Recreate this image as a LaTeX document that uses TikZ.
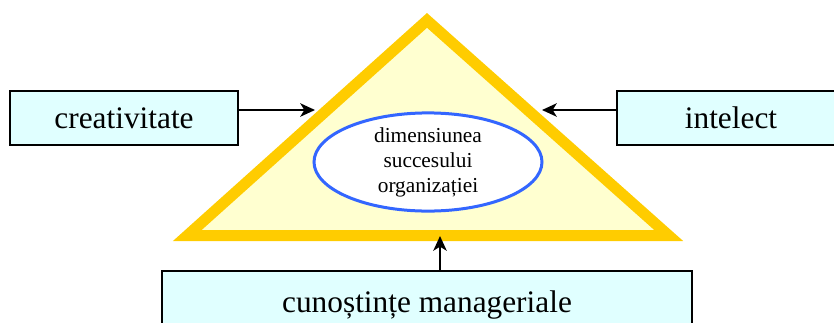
\documentclass[tikz,border=0pt]{standalone}
\usepackage{fontspec}
\setmainfont{Liberation Serif}
\usetikzlibrary{shapes.geometric,arrows.meta}

\definecolor{gold}{RGB}{255,204,0}
\definecolor{paleyellow}{RGB}{255,255,208}
\definecolor{palecyan}{RGB}{224,255,255}
\definecolor{ringblue}{RGB}{51,102,255}

\begin{document}
\begin{tikzpicture}[x=0.75pt, y=-0.75pt,
  box/.style={draw, fill=palecyan, line width=1.3pt, minimum width=171pt, minimum height=40.5pt,
    inner sep=0pt, font=\fontsize{23.5}{28}\selectfont},
  arrow/.style={-{Stealth[length=11pt, width=10pt, inset=3pt]}, line width=1.8pt}]
  \useasboundingbox (0,0) rectangle (834,322);
  \clip (0,0) rectangle (834,322);

  % triangle
  \draw[gold, fill=paleyellow, line width=8.25pt, line join=miter]
    (427,20.4) -- (668.7,235.5) -- (187.3,235.5) -- cycle;

  % centre
  \node[ellipse, draw=ringblue, fill=white, line width=2.25pt, minimum width=171pt, minimum height=68pt,
    inner sep=0pt, align=center, font=\fontsize{16}{18.75}\selectfont] (succ) at (428,162)
    {dimensiunea\\succesului\\organizației};

  % inputs
  \node[box] (creat) at (124,118) {creativitate};
  \node[box] (intel) at (731,118) {intelect};
  \node[box, minimum width=397.5pt, minimum height=51.75pt] (manag) at (427,305.5) {cunoștințe manageriale};

  \coordinate (tipL) at (315,110);
  \coordinate (tipR) at (542,110);
  \coordinate (tipB) at (440,236);

  \draw[arrow] (creat.east |- tipL) -- (tipL);
  \draw[arrow] (intel.west |- tipR) -- (tipR);
  \draw[arrow] (tipB |- manag.north) -- (tipB);
\end{tikzpicture}
\end{document}
